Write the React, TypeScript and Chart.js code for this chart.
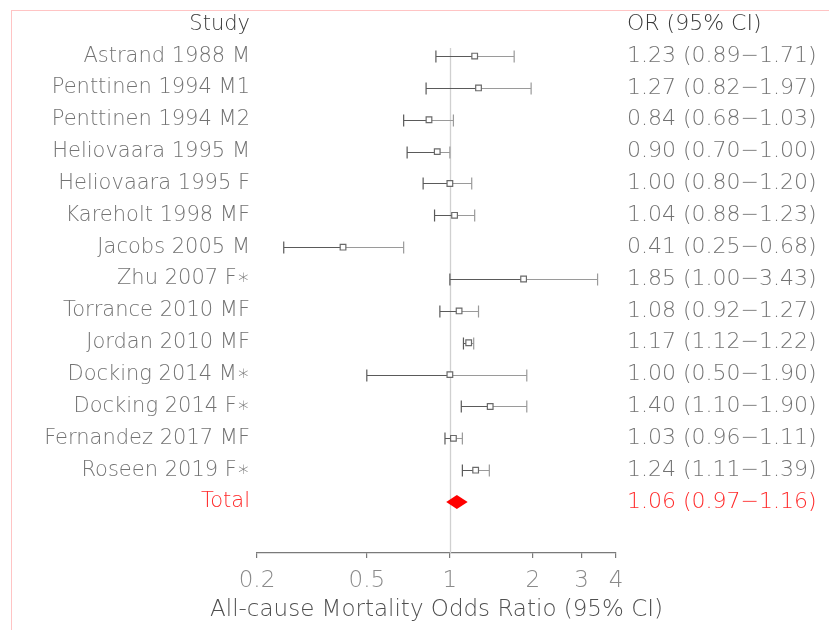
import React, { useEffect, useRef } from "react";
import { Chart, registerables } from "chart.js";

Chart.register(...registerables);

// ---------- data ----------
const studies = [
  "Astrand 1988 M",
  "Penttinen 1994 M1",
  "Penttinen 1994 M2",
  "Heliovaara 1995 M",
  "Heliovaara 1995 F",
  "Kareholt 1998 MF",
  "Jacobs 2005 M",
  "Zhu 2007 F∗",
  "Torrance 2010 MF",
  "Jordan 2010 MF",
  "Docking 2014 M∗",
  "Docking 2014 F∗",
  "Fernandez 2017 MF",
  "Roseen 2019 F∗",
];
const oddsRatios = [1.23, 1.27, 0.84, 0.9, 1.0, 1.04, 0.41, 1.85, 1.08, 1.17, 1.0, 1.4, 1.03, 1.24];
const ciLower = [0.89, 0.82, 0.68, 0.7, 0.8, 0.88, 0.25, 1.0, 0.92, 1.12, 0.5, 1.1, 0.96, 1.11];
const ciUpper = [1.71, 1.97, 1.03, 1.0, 1.2, 1.23, 0.68, 3.43, 1.27, 1.22, 1.9, 1.9, 1.11, 1.39];

const totalLabel = "Total";
const totalOR = 1.06;
const totalLower = 0.97;
const totalUpper = 1.16;

const xTickValues = [0.2, 0.5, 1, 2, 3, 4];
const headerLeft = "Study";
const headerRight = "OR (95% CI)";
const xTitle = "All-cause Mortality Odds Ratio (95% CI)";

// ---------- derived ----------
const fmt = (v: number) => v.toFixed(2);
const ciText = (o: number, l: number, h: number) => `${fmt(o)} (${fmt(l)}−${fmt(h)})`;
const leftLabels = [headerLeft, ...studies, totalLabel];
const rightLabels = [
  headerRight,
  ...studies.map((_, i) => ciText(oddsRatios[i], ciLower[i], ciUpper[i])),
  ciText(totalOR, totalLower, totalUpper),
];
const lastRow = leftLabels.length - 1;

const FONT = "'DejaVu Sans', sans-serif";
const labelColor = (ctx: any) =>
  ctx.index === 0 ? "#3a3a3a" : ctx.index === lastRow ? "#ff2a2a" : "#737373";

const forestPlugin = {
  id: "forest",
  beforeDatasetsDraw(chart: any) {
    const { ctx, scales } = chart;
    const x = scales.x;
    const y = scales.y;
    ctx.save();
    // reference line at OR = 1
    const x1 = Math.round(x.getPixelForValue(1)) + 0.5;
    ctx.strokeStyle = "#d0d0d0";
    ctx.lineWidth = 1.3;
    ctx.beginPath();
    ctx.moveTo(x1, y.getPixelForValue(0.75));
    ctx.lineTo(x1, y.bottom);
    ctx.stroke();

    // confidence intervals
    ctx.lineWidth = 1.2;
    for (let i = 0; i < studies.length; i++) {
      const py = Math.round(y.getPixelForValue(i + 1)) + 0.5;
      const xl = x.getPixelForValue(ciLower[i]);
      const xm = x.getPixelForValue(oddsRatios[i]);
      const xh = x.getPixelForValue(ciUpper[i]);
      const cap = 6;
      ctx.strokeStyle = "#5a5a5a";
      ctx.beginPath();
      ctx.moveTo(xl, py);
      ctx.lineTo(xm, py);
      ctx.moveTo(xl, py - cap);
      ctx.lineTo(xl, py + cap);
      ctx.stroke();
      ctx.strokeStyle = "#9a9a9a";
      ctx.beginPath();
      ctx.moveTo(xm, py);
      ctx.lineTo(xh, py);
      ctx.moveTo(xh, py - cap);
      ctx.lineTo(xh, py + cap);
      ctx.stroke();
    }
    ctx.restore();
  },
  afterDatasetsDraw(chart: any) {
    const { ctx, scales } = chart;
    const x = scales.x;
    const y = scales.y;
    const py = y.getPixelForValue(lastRow);
    const xl = x.getPixelForValue(totalLower);
    const xm = x.getPixelForValue(totalOR);
    const xh = x.getPixelForValue(totalUpper);
    ctx.save();
    ctx.fillStyle = "#ff0000";
    ctx.beginPath();
    ctx.moveTo(xl, py);
    ctx.lineTo(xm, py - 7);
    ctx.lineTo(xh, py);
    ctx.lineTo(xm, py + 7);
    ctx.closePath();
    ctx.fill();
    ctx.restore();
  },
  afterDraw(chart: any) {
    // x-axis title, drawn without Chart.js's maxWidth squeeze
    const { ctx, chartArea, scales } = chart;
    const x = scales.x;
    ctx.save();
    ctx.font = `200 23px ${FONT}`;
    ctx.fillStyle = "#4f4f4f";
    ctx.textAlign = "center";
    ctx.textBaseline = "middle";
    ctx.fillText(xTitle, (chartArea.left + chartArea.right) / 2, x.bottom - 20);
    ctx.restore();
  },
};

const rowTicks = (scale: any) => {
  scale.ticks = leftLabels.map((_, i) => ({ value: i }));
};

export default function App() {
  const ref = useRef<HTMLCanvasElement | null>(null);

  useEffect(() => {
    if (!ref.current) return;
    const chart = new Chart(ref.current, {
      type: "scatter",
      data: {
        datasets: [
          {
            data: oddsRatios.map((v, i) => ({ x: v, y: i + 1 })),
            pointStyle: "rect",
            pointRadius: 4,
            pointBorderWidth: 1.2,
            borderColor: "#6a6a6a",
            backgroundColor: "#ffffff",
            xAxisID: "x",
            yAxisID: "y",
          },
        ],
      },
      options: {
        animation: false,
        responsive: false,
        events: [],
        layout: { padding: { top: 18, left: 0, right: 0, bottom: 0 } },
        plugins: { legend: { display: false }, tooltip: { enabled: false } },
        scales: {
          x: {
            type: "logarithmic",
            position: "bottom",
            min: 0.2,
            max: 4,
            afterBuildTicks: (scale: any) => {
              scale.ticks = xTickValues.map((v) => ({ value: v }));
            },
            afterFit: (scale: any) => {
              scale.height = 77;
            },
            grid: {
              display: true,
              drawOnChartArea: false,
              drawTicks: true,
              tickLength: 5,
              color: "#7a7a7a",
              lineWidth: 1.2,
            },
            border: { display: true, color: "#7a7a7a", width: 1.2 },
            ticks: {
              autoSkip: false,
              maxRotation: 0,
              padding: 9,
              color: "#8a8a8a",
              font: { family: FONT, size: 23, weight: "200" },
              callback: (v: any) => String(v),
            },
            title: { display: false },
          },
          y: {
            type: "linear",
            position: "left",
            reverse: true,
            min: 0,
            max: 16.6,
            afterBuildTicks: rowTicks,
            afterFit: (scale: any) => {
              scale.width = 257;
            },
            grid: { display: false, drawTicks: false },
            border: { display: false },
            ticks: {
              autoSkip: false,
              padding: 7,
              color: labelColor,
              font: { family: FONT, size: 21, weight: "200" },
              callback: (_v: any, i: number) => leftLabels[i],
            },
          },
          y2: {
            type: "linear",
            position: "right",
            display: true,
            reverse: true,
            min: 0,
            max: 16.6,
            afterBuildTicks: rowTicks,
            afterFit: (scale: any) => {
              scale.width = 213;
            },
            grid: { display: false, drawTicks: false },
            border: { display: false },
            ticks: {
              autoSkip: false,
              padding: 11,
              color: labelColor,
              font: { family: FONT, size: 22, weight: "200" },
              callback: (_v: any, i: number) => rightLabels[i],
            },
          },
        },
      },
      plugins: [forestPlugin],
    });
    return () => chart.destroy();
  }, []);

  return (
    <div
      style={{
        position: "absolute",
        left: 0,
        top: 0,
        width: 829,
        height: 630,
        background: "#ffffff",
        overflow: "hidden",
      }}
    >
      <canvas ref={ref} width={829} height={630} style={{ display: "block" }} />
      <div
        style={{
          position: "absolute",
          left: 11,
          top: 10,
          right: -5,
          bottom: -5,
          borderTop: "1px solid #ffc4c4",
          borderLeft: "1px solid #ffc4c4",
          pointerEvents: "none",
        }}
      />
    </div>
  );
}
